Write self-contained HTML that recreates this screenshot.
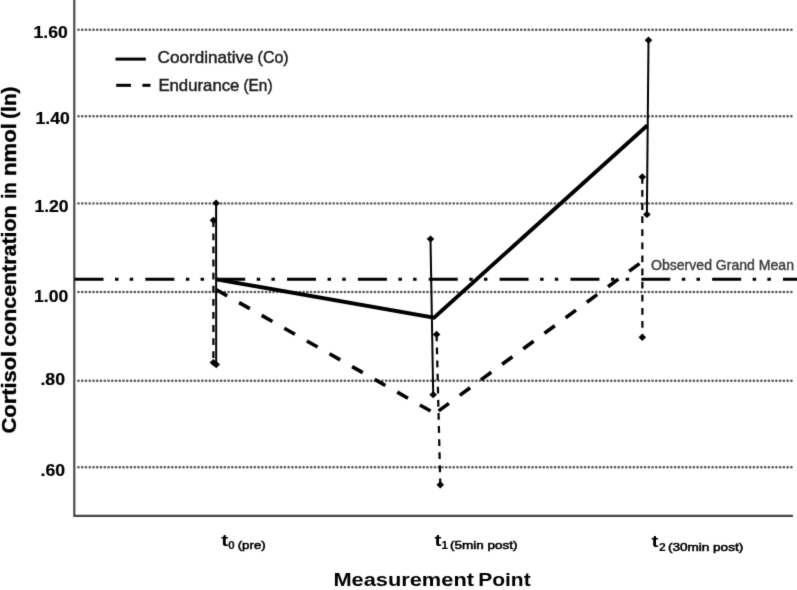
<!DOCTYPE html>
<html><head><meta charset="utf-8"><title>Cortisol concentration chart</title>
<style>
html,body{margin:0;padding:0;background:#fff;}
body{width:797px;height:590px;overflow:hidden;}
svg{display:block;}
text{font-family:"Liberation Sans",Arial,sans-serif;}
</style></head>
<body>
<svg width="797" height="590" viewBox="0 0 797 590">
<defs><filter id="soft" x="0" y="0" width="797" height="590" filterUnits="userSpaceOnUse" color-interpolation-filters="sRGB"><feConvolveMatrix order="3" kernelMatrix="0.0113 0.0838 0.0113 0.0838 0.6196 0.0838 0.0113 0.0838 0.0113" edgeMode="duplicate"/></filter></defs>
<g filter="url(#soft)">
<rect width="797" height="590" fill="#fff"/>
<!-- gridlines -->
<g stroke="#575757" stroke-width="2.4" stroke-linecap="round" stroke-dasharray="0.3 3.452" fill="none">
<line x1="78.35" y1="29.7" x2="792" y2="29.7"/>
<line x1="78.35" y1="116.3" x2="792" y2="116.3"/>
<line x1="78.35" y1="203.4" x2="792" y2="203.4"/>
<line x1="78.35" y1="292" x2="792" y2="292"/>
<line x1="78.35" y1="380.7" x2="792" y2="380.7"/>
<line x1="78.35" y1="467.3" x2="792" y2="467.3"/>
</g>
<!-- axes -->
<path d="M74.3 0 V515.9 H793" stroke="#444" stroke-width="2.1" fill="none"/>
<!-- grand mean -->
<line x1="74.5" y1="279.3" x2="797" y2="279.3" stroke="#000" stroke-width="3" stroke-dasharray="29 11.5 3.5 11.2 3.5 12.15"/>
<!-- Co line -->
<polyline points="216.4,279.3 434,317.6 647.2,125.5" fill="none" stroke="#000" stroke-width="3.8" stroke-linejoin="miter"/>
<!-- En line -->
<line x1="216.5" y1="289.8" x2="435.1" y2="413.6" stroke="#000" stroke-width="3.6" stroke-dasharray="12.3 13.67"/>
<line x1="438.6" y1="410.9" x2="639.5" y2="263.6" stroke="#000" stroke-width="3.6" stroke-dasharray="12.8 13.46"/>
<!-- error bars solid -->
<g stroke="#000" stroke-width="2" fill="none">
<line x1="216.1" y1="203.2" x2="216.2" y2="364.6"/>
<line x1="430.5" y1="239" x2="433.2" y2="394.7"/>
<line x1="648.5" y1="40.2" x2="646.9" y2="214.4"/>
</g>
<g stroke="#000" stroke-width="2.2" fill="none" stroke-dasharray="6.8 6.3">
<line x1="213.4" y1="220.3" x2="213.4" y2="362.6"/>
<line x1="436.6" y1="334.4" x2="440.3" y2="484.8"/>
<line x1="642.3" y1="176.9" x2="642.4" y2="337.3"/>
</g>
<!-- diamonds -->
<g fill="#000">
<path d="M216.1 199.6 L219.9 203.2 L216.1 206.8 L212.3 203.2Z"/>
<path d="M216.2 361 L220 364.6 L216.2 368.2 L212.4 364.6Z"/>
<path d="M213.4 216.7 L217.2 220.3 L213.4 223.9 L209.6 220.3Z"/>
<path d="M213.4 359 L217.2 362.6 L213.4 366.2 L209.6 362.6Z"/>
<path d="M430.5 235.4 L434.3 239 L430.5 242.6 L426.7 239Z"/>
<path d="M433.2 391.1 L437 394.7 L433.2 398.3 L429.4 394.7Z"/>
<path d="M436.6 330.8 L440.4 334.4 L436.6 338 L432.8 334.4Z"/>
<path d="M440.3 481.2 L444.1 484.8 L440.3 488.4 L436.5 484.8Z"/>
<path d="M648.5 36.6 L652.3 40.2 L648.5 43.8 L644.7 40.2Z"/>
<path d="M646.9 210.8 L650.7 214.4 L646.9 218 L643.1 214.4Z"/>
<path d="M642.3 173.3 L646.1 176.9 L642.3 180.5 L638.5 176.9Z"/>
<path d="M642.3 333.7 L646.1 337.3 L642.3 340.9 L638.5 337.3Z"/>
</g>
<!-- legend -->
<line x1="115.5" y1="59.1" x2="145.8" y2="59.1" stroke="#000" stroke-width="3"/>
<line x1="116.2" y1="85.3" x2="131" y2="85.3" stroke="#000" stroke-width="3"/>
<line x1="142.4" y1="85.3" x2="150.5" y2="85.3" stroke="#000" stroke-width="3"/>
<g fill="#1c1c1c" stroke="#1c1c1c" stroke-width="0.45" font-size="16.6">
<text x="157.6" y="62.8" textLength="96" lengthAdjust="spacingAndGlyphs">Coordinative</text>
<text x="257.6" y="62.8" textLength="31" lengthAdjust="spacingAndGlyphs">(Co)</text>
<text x="158.4" y="90.6" textLength="81" lengthAdjust="spacingAndGlyphs">Endurance</text>
<text x="243.5" y="90.6" textLength="29" lengthAdjust="spacingAndGlyphs">(En)</text>
</g>
<!-- grand mean label -->
<text x="651" y="269.9" font-size="14.3" fill="#3c3c3c" stroke="#3c3c3c" stroke-width="0.4" textLength="143" lengthAdjust="spacingAndGlyphs">Observed Grand Mean</text>
<!-- y tick labels -->
<g font-size="16" font-weight="bold" fill="#000" stroke="#000" stroke-width="0.2">
<text x="33.5" y="37.8" textLength="34.2" lengthAdjust="spacingAndGlyphs">1.60</text>
<text x="35.5" y="124.2" textLength="34.2" lengthAdjust="spacingAndGlyphs">1.40</text>
<text x="34.4" y="211.7" textLength="34.2" lengthAdjust="spacingAndGlyphs">1.20</text>
<text x="34.1" y="302.2" textLength="34.2" lengthAdjust="spacingAndGlyphs">1.00</text>
<text x="40.4" y="384.8" textLength="24.6" lengthAdjust="spacingAndGlyphs">.80</text>
<text x="40.6" y="475.6" textLength="24.6" lengthAdjust="spacingAndGlyphs">.60</text>
</g>
<!-- y axis title -->
<g font-size="20" font-weight="bold" fill="#000" stroke="#000" stroke-width="0.35">
<text transform="translate(16.4,433.4) rotate(-90)" textLength="82.5" lengthAdjust="spacingAndGlyphs">Cortisol</text>
<text transform="translate(16.4,346.8) rotate(-90)" textLength="141.5" lengthAdjust="spacingAndGlyphs">concentration</text>
<text transform="translate(16.4,198.8) rotate(-90)" textLength="16.5" lengthAdjust="spacingAndGlyphs">in</text>
<text transform="translate(16.4,176.1) rotate(-90)" textLength="53" lengthAdjust="spacingAndGlyphs">nmol</text>
<text transform="translate(16.4,118.8) rotate(-90)" textLength="32.3" lengthAdjust="spacingAndGlyphs">(ln)</text>
</g>
<!-- x tick labels -->
<g font-weight="bold" fill="#000">
<text x="221.2" y="546.1" font-size="17.2" textLength="7" lengthAdjust="spacingAndGlyphs">t</text>
<text x="228" y="548.7" font-size="11.5" textLength="6.8" lengthAdjust="spacingAndGlyphs">0</text>
<text x="237.7" y="548.7" font-size="11.5" font-weight="normal" stroke="#000" stroke-width="0.55" textLength="28" lengthAdjust="spacingAndGlyphs">(pre)</text>
<text x="434.5" y="546.4" font-size="17.2" textLength="7" lengthAdjust="spacingAndGlyphs">t</text>
<text x="441.2" y="549.2" font-size="11.5" textLength="6.8" lengthAdjust="spacingAndGlyphs">1</text>
<text x="450.1" y="549.2" font-size="11.5" font-weight="normal" stroke="#000" stroke-width="0.55" textLength="67.5" lengthAdjust="spacingAndGlyphs">(5min post)</text>
<text x="651.5" y="547.1" font-size="17.2" textLength="7" lengthAdjust="spacingAndGlyphs">t</text>
<text x="658.9" y="550.5" font-size="11.5" textLength="6.8" lengthAdjust="spacingAndGlyphs">2</text>
<text x="667.9" y="550.5" font-size="11.5" font-weight="normal" stroke="#000" stroke-width="0.55" textLength="75.3" lengthAdjust="spacingAndGlyphs">(30min post)</text>
</g>
<!-- x axis title -->
<g font-size="18.8" font-weight="bold" fill="#000">
<text x="333.4" y="585.9" textLength="140.6" lengthAdjust="spacingAndGlyphs">Measurement</text>
<text x="478.2" y="585.9" textLength="52.5" lengthAdjust="spacingAndGlyphs">Point</text>
</g>
</g>
</svg>
</body></html>
